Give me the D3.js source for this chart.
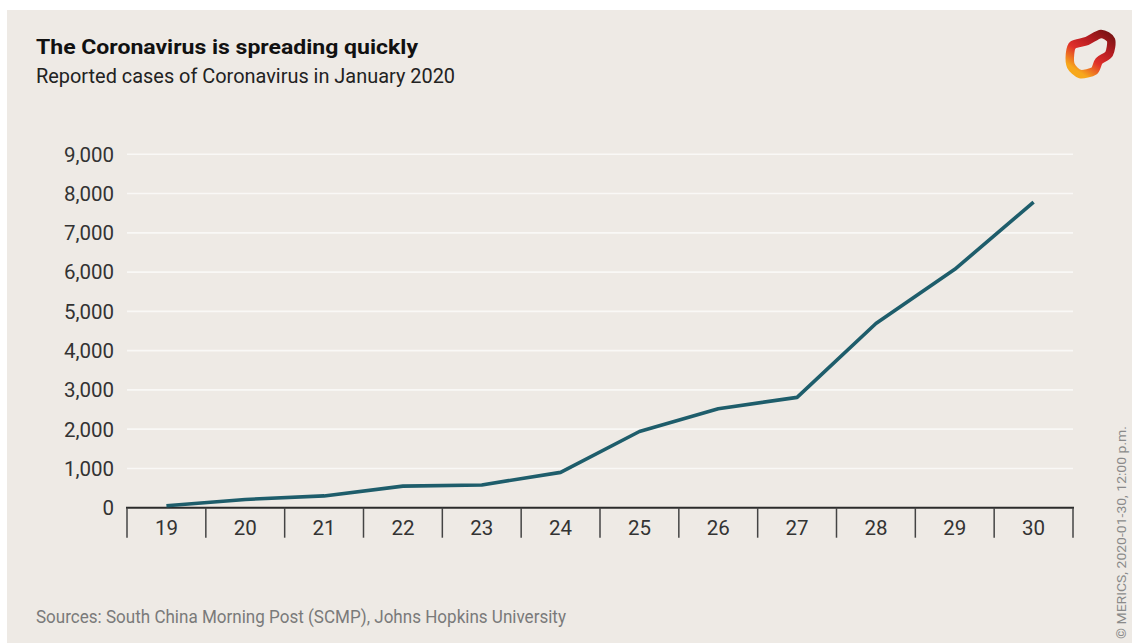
<!DOCTYPE html>
<html>
<head>
<meta charset="utf-8">
<script src="https://cdn.jsdelivr.net/npm/d3@7"></script>
<style>
  html, body { margin: 0; padding: 0; background: #ffffff; }
  svg { display: block; }
  text { font-family: Roboto, "Noto Sans", sans-serif; }
</style>
</head>
<body>
<svg id="chart" width="1132" height="643"></svg>
<script>
// ---- Data ----
const days = ["19", "20", "21", "22", "23", "24", "25", "26", "27", "28", "29", "30"];
const cases = [50, 210, 300, 550, 580, 900, 1940, 2520, 2810, 4690, 6070, 7780];
const yTicks = [0, 1000, 2000, 3000, 4000, 5000, 6000, 7000, 8000, 9000];

const title = "The Coronavirus is spreading quickly";
const subtitle = "Reported cases of Coronavirus in January 2020";
const source = "Sources: South China Morning Post (SCMP), Johns Hopkins University";
const credit = "© MERICS, 2020-01-30, 12:00 p.m.";

// ---- Layout ----
const W = 1132, H = 643;
const svg = d3.select("#chart");

svg.append("rect").attr("x", 7).attr("y", 10).attr("width", W - 7).attr("height", H - 10)
  .attr("fill", "#eeeae5");

const x = d3.scaleBand().domain(days).range([127, 1073]).padding(0);
const y = d3.scaleLinear().domain([0, 9000]).range([507.7, 154.3]);

// gridlines
svg.append("g").selectAll("line")
  .data(yTicks.filter(d => d > 0))
  .join("line")
  .attr("x1", 127).attr("x2", 1073)
  .attr("y1", d => y(d)).attr("y2", d => y(d))
  .attr("stroke", "#f9f8f6").attr("stroke-width", 1.6);

// y labels
const fmt = d3.format(",");
svg.append("g").selectAll("text")
  .data(yTicks)
  .join("text")
  .attr("x", 114).attr("y", d => y(d))
  .attr("dy", "0.36em")
  .attr("text-anchor", "end")
  .attr("font-size", 20.5)
  .attr("fill", "#333")
  .text(d => fmt(d));

// x axis line + ticks at band boundaries
svg.append("line")
  .attr("x1", 126).attr("x2", 1074)
  .attr("y1", y(0)).attr("y2", y(0))
  .attr("stroke", "#2b2b2b").attr("stroke-width", 2);

const bounds = days.map(d => x(d)).concat([x(days[days.length - 1]) + x.bandwidth()]);
svg.append("g").selectAll("line")
  .data(bounds)
  .join("line")
  .attr("x1", d => d).attr("x2", d => d)
  .attr("y1", y(0)).attr("y2", y(0) + 30)
  .attr("stroke", "#444").attr("stroke-width", 1.5);

svg.append("g").selectAll("text")
  .data(days)
  .join("text")
  .attr("x", d => x(d) + x.bandwidth() / 2)
  .attr("y", 535)
  .attr("text-anchor", "middle")
  .attr("font-size", 20.5)
  .attr("fill", "#333")
  .text(d => d);

// line
const line = d3.line()
  .x((d, i) => x(days[i]) + x.bandwidth() / 2)
  .y(d => y(d));
svg.append("path")
  .datum(cases)
  .attr("d", line)
  .attr("fill", "none")
  .attr("stroke", "#1e5d6b")
  .attr("stroke-width", 3.6)
  .attr("stroke-linejoin", "round");

// titles
function fitText(sel, w) {
  const n = sel.node();
  const len = n.getComputedTextLength();
  if (len > 0) sel.attr("textLength", w).attr("lengthAdjust", "spacingAndGlyphs");
}
const t1 = svg.append("text").attr("x", 36).attr("y", 54)
  .attr("font-size", 21).attr("font-weight", "bold").attr("fill", "#111").text(title);
fitText(t1, 382);
const t2 = svg.append("text").attr("x", 36).attr("y", 83)
  .attr("font-size", 21).attr("fill", "#222").text(subtitle);
fitText(t2, 419);
const t3 = svg.append("text").attr("x", 36).attr("y", 623)
  .attr("font-size", 17.5).attr("fill", "#7a7a7a").text(source);
fitText(t3, 530);

const t4 = svg.append("text")
  .attr("transform", "translate(1126,639) rotate(-90)")
  .attr("font-size", 12.5).attr("fill", "#8a8a8a").text(credit);
fitText(t4, 213);

// logo
const defs = svg.append("defs");
const g = defs.append("linearGradient").attr("id", "lg")
  .attr("x1", "1").attr("y1", "0").attr("x2", "0.3").attr("y2", "1");
g.append("stop").attr("offset", "0").attr("stop-color", "#7a1414");
g.append("stop").attr("offset", "0.35").attr("stop-color", "#b81d22");
g.append("stop").attr("offset", "0.65").attr("stop-color", "#e0302a");
g.append("stop").attr("offset", "1").attr("stop-color", "#f7a81c");
const logoPts = [[1073, 45], [1087, 41], [1101, 34], [1111, 40], [1109, 54], [1099, 61], [1094, 71], [1080, 74], [1071, 66], [1070, 54]];
svg.append("path")
  .attr("d", d3.line().curve(d3.curveCardinalClosed.tension(0.2))(logoPts))
  .attr("fill", "none").attr("stroke", "url(#lg)").attr("stroke-width", 8.5);
</script>
</body>
</html>
